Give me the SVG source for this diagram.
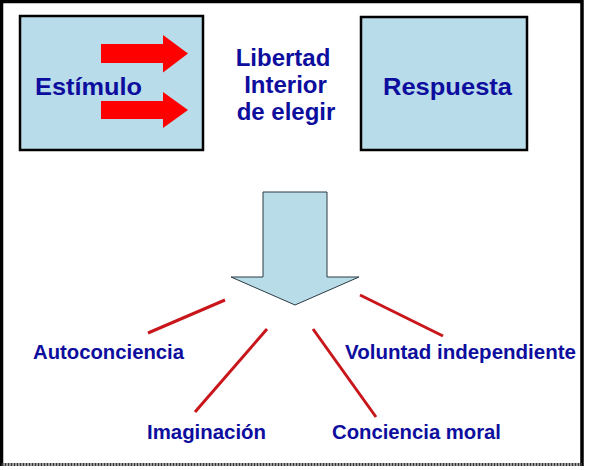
<svg xmlns="http://www.w3.org/2000/svg" width="590" height="470" viewBox="0 0 590 470">
<style>
.box{fill:#b8dcea;stroke:#000;stroke-width:2.5}
.big{font-family:"Liberation Sans",Arial,sans-serif;font-weight:bold;font-size:24px;fill:#0d0d9e;text-anchor:middle}
.lbl{font-family:"Liberation Sans",Arial,sans-serif;font-weight:bold;font-size:19.5px;fill:#0d0d9e}
.red{fill:#ff0000}
.ln{stroke:#c8161b;stroke-width:3;stroke-linecap:butt}
</style>
<rect x="0" y="0" width="590" height="470" fill="#fff"/>
<path d="M1.5,466 V1.5 H582 V466" fill="none" stroke="#000" stroke-width="3.5"/>
<line x1="1.5" y1="464.5" x2="582" y2="464.5" stroke="#333" stroke-width="3" stroke-dasharray="2,1"/>
<g id="estimulo">
<rect class="box" x="20" y="16" width="183" height="134"/>
<text class="big" x="88.5" y="95" font-size="26" textLength="107" lengthAdjust="spacingAndGlyphs">Estímulo</text>
</g>
<g id="flechas">
<polygon class="red" points="101,44 163,44 163,35 188,53.5 163,72.5 163,63 101,63"/>
<polygon class="red" points="101,101 163,101 163,92 188,110 163,128 163,119 101,119"/>
</g>
<g id="libertad">
<text class="big" x="283" y="66">Libertad</text>
<text class="big" x="285.5" y="93">Interior</text>
<text class="big" x="286" y="120">de elegir</text>
</g>
<g id="respuesta">
<rect class="box" x="361" y="17" width="166" height="133"/>
<text class="big" x="447.5" y="95" font-size="26" textLength="129" lengthAdjust="spacingAndGlyphs">Respuesta</text>
</g>
<g id="flecha-abajo">
<polygon points="263,192 327,192 327,277 359,277 295,305 231,277 263,277" fill="#b9dce9" stroke="#2a3a44" stroke-width="1"/>
</g>
<g id="connectors">
<line class="ln" x1="225" y1="300" x2="148" y2="333"/>
<line class="ln" x1="267" y1="329" x2="195" y2="412"/>
<line class="ln" x1="313" y1="329" x2="376" y2="417"/>
<line class="ln" x1="360" y1="295" x2="443" y2="336"/>
</g>
<g id="autoconciencia"><text class="lbl" x="33" y="359" textLength="151" lengthAdjust="spacingAndGlyphs">Autoconciencia</text></g>
<g id="imaginacion"><text class="lbl" x="147" y="439" textLength="119" lengthAdjust="spacingAndGlyphs">Imaginación</text></g>
<g id="conciencia-moral"><text class="lbl" x="332" y="439" textLength="169" lengthAdjust="spacingAndGlyphs">Conciencia moral</text></g>
<g id="voluntad"><text class="lbl" x="345" y="359" textLength="231" lengthAdjust="spacingAndGlyphs">Voluntad independiente</text></g>
</svg>
